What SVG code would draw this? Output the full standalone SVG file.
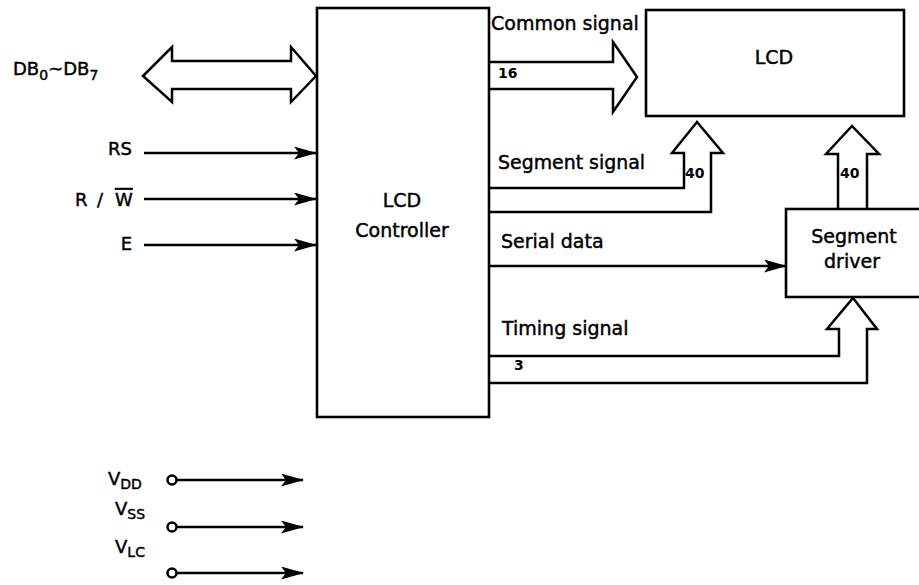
<svg xmlns="http://www.w3.org/2000/svg" width="919" height="585" viewBox="0 0 919 585">
<defs>
<style>
.box{fill:#fff;stroke:#000;stroke-width:2.6}
.ln{fill:none;stroke:#000;stroke-width:2.5}
.bus{fill:#fff;stroke:#000;stroke-width:2.5;stroke-linejoin:miter}
.t{font-family:"DejaVu Sans","Liberation Sans",sans-serif;font-size:19px;fill:#000;stroke:#000;stroke-width:0.45}
.s{font-family:"DejaVu Sans","Liberation Sans",sans-serif;font-size:18px;fill:#000;stroke:#000;stroke-width:0.45}
.n{font-family:"DejaVu Sans","Liberation Sans",sans-serif;font-size:14px;font-weight:bold;fill:#000}
.sub{font-size:14px}
</style>
<marker id="ah" markerUnits="userSpaceOnUse" markerWidth="24" markerHeight="14" refX="22" refY="6.5" orient="auto">
<path d="M0,0 L23,6.5 L0,13 L5,6.5 Z" fill="#000"/>
</marker>
</defs>
<rect width="919" height="585" fill="#fff"/>

<g id="connectors">
<path class="bus" d="M143,76 L172,47 L172,61 L291,61 L291,47 L316,76 L291,102 L291,89 L172,89 L172,102 Z"/>
<line class="ln" x1="144" y1="153" x2="316" y2="153" marker-end="url(#ah)"/>
<line class="ln" x1="144" y1="199" x2="316" y2="199" marker-end="url(#ah)"/>
<line class="ln" x1="144" y1="245" x2="316" y2="245" marker-end="url(#ah)"/>
<path class="bus" d="M490,62 L613,62 L613,42 L637,77 L613,112 L613,89 L490,89"/>
<text class="n" x="498" y="78">16</text>
<path class="bus" d="M490,188 L684,188 L684,153 L672,153 L697,122 L723,153 L711,153 L711,212 L490,212"/>
<text class="n" x="685" y="178">40</text>
<path class="bus" d="M838,209 L838,154 L826,154 L852,126 L879,154 L867,154 L867,209"/>
<text class="n" x="840" y="178">40</text>
<line class="ln" x1="490" y1="266" x2="786" y2="266" marker-end="url(#ah)"/>
<path class="bus" d="M490,356 L839,356 L839,329 L827,329 L853,298 L877,329 L867,329 L867,383 L490,383"/>
<text class="n" x="514" y="370">3</text>
<circle cx="172" cy="480" r="4.5" class="ln"/>
<line class="ln" x1="177" y1="480" x2="303" y2="480" marker-end="url(#ah)"/>
<circle cx="172" cy="527" r="4.5" class="ln"/>
<line class="ln" x1="177" y1="527" x2="303" y2="527" marker-end="url(#ah)"/>
<circle cx="172" cy="573" r="4.5" class="ln"/>
<line class="ln" x1="177" y1="573" x2="303" y2="573" marker-end="url(#ah)"/>
</g>

<g id="controller">
<rect class="box" x="317" y="8" width="172" height="409"/>
<text class="t" x="402" y="207" text-anchor="middle">LCD</text>
<text class="t" x="402" y="237" text-anchor="middle">Controller</text>
</g>

<g id="lcd">
<rect class="box" x="646" y="10" width="258" height="106"/>
<text class="t" x="774" y="64" text-anchor="middle">LCD</text>
</g>

<g id="segment-driver">
<rect class="box" x="786" y="209" width="150" height="88"/>
<text class="t" x="854" y="243" text-anchor="middle">Segment</text>
<text class="t" x="852" y="268" text-anchor="middle">driver</text>
</g>

<g id="labels">
<text class="s" x="13" y="75">DB<tspan class="sub" dy="5">0</tspan><tspan dy="-5">~DB</tspan><tspan class="sub" dy="5">7</tspan></text>
<text class="s" x="132" y="155" text-anchor="end">RS</text>
<text class="s" x="75" y="206">R<tspan x="97">/</tspan><tspan x="115" style="text-decoration:overline">W</tspan></text>
<text class="s" x="132" y="250" text-anchor="end">E</text>
<text class="t" x="491" y="30">Common signal</text>
<text class="t" x="498" y="169" textLength="147" lengthAdjust="spacingAndGlyphs">Segment signal</text>
<text class="t" x="501" y="248">Serial data</text>
<text class="t" x="502" y="335">Timing signal</text>
<text class="s" x="108" y="485">V<tspan class="sub" dy="4">DD</tspan></text>
<text class="s" x="115" y="515">V<tspan class="sub" dy="4">SS</tspan></text>
<text class="s" x="115" y="553">V<tspan class="sub" dy="4">LC</tspan></text>
</g>
</svg>
